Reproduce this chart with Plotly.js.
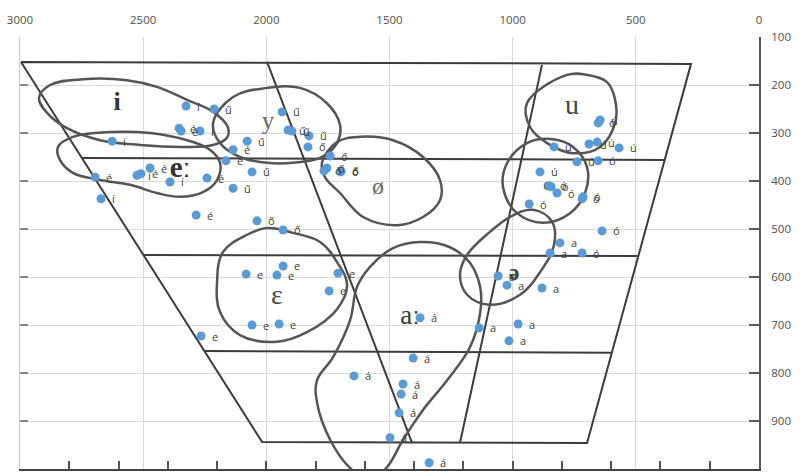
<!DOCTYPE html>
<html><head><meta charset="utf-8">
<script src="https://cdn.plot.ly/plotly-3.0.1.min.js"></script>
<style>html,body{margin:0;padding:0;background:#fff}</style>
</head><body>
<div id="chart" style="width:802px;height:472px"></div>
<script>
// measured tokens: F2 (x), F1 (y), orthographic label
const f2Values = [2326,2212,2354,2346,2269,2626,2078,2135,2164,2058,2695,2525,2509,2472,2391,2241,2135,2671,2285,2038,1932,
  1936,1912,1896,1827,1831,1741,1754,1766,1697,1697,
  2082,1957,1932,1709,1745,2058,1948,2265,
  1376,1404,1644,1445,1453,1461,1498,1339,
  1059,1023,881,1136,978,1015,808,848,718,637,
  653,645,832,690,657,568,739,653,889,852,844,820,714,718,933];
const f1Values = [244,250,290,296,296,317,317,335,358,381,392,388,385,373,402,394,415,437,471,483,502,
  256,294,296,306,329,348,373,379,379,381,
  594,596,577,592,629,700,698,723,
  685,769,806,823,844,883,935,987,
  598,617,623,706,698,733,529,550,550,504,
  279,273,329,323,319,331,360,358,381,410,412,425,433,437,448];
const tokenLabels = ['í','ű','é','é','í','í','ű','é','é','ű','é','í','é','é','í','é','ű','í','é','ő','ő',
  'ű','ű','ű','ű','ő','ő','ő','ő','ő','ő',
  'e','e','e','e','e','e','e','e',
  'á','á','á','á','á','á','á','á',
  'a','a','a','a','a','a','a','a','ó','ó',
  'ó','ú','ú','ú','ú','ú','ú','ó','ú','ó','ó','ó','ó','ó','ó'];

// IPA vowel symbols of the background chart
const symbolText = ['i','y','eː','ø','u','o','ɛ','aː','ə'];
const symbolF2 = [2606,1993,2350,1547,759,860,1957,1417,994];
const symbolF1 = [238,279,377,414,246,410,642,683,594];
const symbolSize = [26,25,29,24,28,16,28,27,24];
const symbolWeight = ['bold','normal','bold','normal','normal','normal','normal','normal','bold'];
const symbolColor = ['#333333','#6a6a6a','#333333','#6a6a6a','#444444','#555555','#4a4a4a','#3a3a3a','#444444'];

// vowel trapezoid (outer frame, horizontal bands, inner diagonals)
const frameF2 = [2996,276,698,2017,2996];
const frameF1 = [152,156,946,944,152];
const bandF2 = [[2748,381],[2501,491],[2249,600]];
const bandF1 = [[352,356],[554,556],[754,758]];
const diagF2 = [[1997,1408],[881,1214]];
const diagF1 = [[152,946],[158,946]];

// vowel areas (closed outlines)
const areaNames = ['i','eː','y','ø','u','o','ə','ɛ','aː'];
const areaF2 = [
  [2923,2878,2744,2566,2444,2322,2216,2156,2160,2216,2338,2513,2675,2809,2890],
  [2846,2785,2635,2472,2322,2229,2188,2200,2257,2350,2444,2553,2675,2785,2838],
  [2216,2135,1997,1863,1754,1701,1713,1782,1892,1997,2107,2188],
  [1774,1713,1620,1486,1364,1295,1295,1364,1469,1607,1701,1762],
  [698,779,942,929,860,755,645,584,584,617],
  [836,755,698,706,767,877,982,1039,1023,942],
  [917,840,832,889,970,1092,1185,1214,1185,1092,1011],
  [2200,2176,2078,1997,1892,1782,1713,1672,1713,1835,1957,2107,2188],
  [1376,1254,1173,1132,1132,1173,1266,1364,1445,1510,1579,1660,1741,1794,1794,1729,1660,1632,1579,1486]
];
const areaF1 = [
  [227,200,188,190,204,231,256,288,310,325,329,325,315,290,258],
  [329,308,298,300,315,335,362,398,423,433,425,408,398,383,356],
  [279,225,206,206,238,283,321,352,362,362,350,321],
  [362,319,308,315,350,398,440,475,492,475,425,392],
  [179,179,238,288,321,342,329,279,231,194],
  [313,329,371,425,467,487,467,413,363,321],
  [460,485,533,590,637,658,637,596,554,506,475],
  [610,548,512,498,508,527,569,617,667,715,735,721,673],
  [527,538,571,621,675,746,815,877,939,996,1023,998,939,862,815,767,690,621,579,540]
];

const xTicks = [3000,2500,2000,1500,1000,500,0];
const yTicks = [100,200,300,400,500,600,700,800,900,1000];

const traces = [];
const frameLine = {color:'#3c3c3c', width:2};
traces.push({x:frameF2, y:frameF1, mode:'lines', line:frameLine, hoverinfo:'skip', showlegend:false});
bandF2.forEach((b,i)=>traces.push({x:b, y:bandF1[i], mode:'lines', line:frameLine, hoverinfo:'skip', showlegend:false}));
diagF2.forEach((d,i)=>traces.push({x:d, y:diagF1[i], mode:'lines', line:frameLine, hoverinfo:'skip', showlegend:false}));
areaF2.forEach((a,i)=>{
  traces.push({x:a.concat([a[0]]), y:areaF1[i].concat([areaF1[i][0]]), mode:'lines', name:areaNames[i],
    line:{color:'#555555', width:2.5, shape:'spline', smoothing:1.1}, hoverinfo:'skip', showlegend:false});
});
traces.push({x:symbolF2, y:symbolF1, mode:'text', text:symbolText, textposition:'middle center',
  textfont:{family:'Liberation Serif, DejaVu Serif, serif', size:symbolSize, color:symbolColor, weight:symbolWeight},
  hoverinfo:'skip', showlegend:false, cliponaxis:false});
traces.push({x:f2Values, y:f1Values, mode:'markers', text:tokenLabels,
  marker:{color:'#5b9bd5', size:9}, showlegend:false, cliponaxis:false});
// dummy trace on secondary axes
traces.push({x:[3000], y:[1000], xaxis:'x2', yaxis:'y2', mode:'markers', marker:{opacity:0}, hoverinfo:'skip', showlegend:false});

const labelAnnotations = tokenLabels.map((t,i)=>({
  x:f2Values[i], y:f1Values[i], xref:'x', yref:'y', text:t, showarrow:false,
  xanchor:'left', yanchor:'middle', xshift:10, borderpad:0,
  font:{family:'Open Sans, sans-serif', size:11, color:'#404040'}
}));

const tickFont = {family:'Open Sans, sans-serif', size:11.5, color:'#505050'};
const layout = {
  width:802, height:472,
  margin:{l:20, r:43, t:37, b:3},
  paper_bgcolor:'#ffffff', plot_bgcolor:'#ffffff',
  showlegend:false,
  annotations:labelAnnotations,
  xaxis:{range:[3000,0], side:'top', tickvals:xTicks, ticktext:xTicks.map(String), showgrid:true, gridcolor:'#d9d9d9', gridwidth:1,
    zeroline:false, showline:false, ticks:'', tickfont:tickFont, ticklabelstandoff:10},
  yaxis:{range:[1000,100], side:'right', tickvals:yTicks, ticktext:yTicks.map(String), showgrid:true, gridcolor:'#d9d9d9', gridwidth:1,
    zeroline:false, showline:true, linecolor:'#5a5a5a', linewidth:2, ticks:'inside', ticklen:10, tickwidth:2, tickcolor:'#5a5a5a',
    tickfont:tickFont, ticklabelstandoff:8},
  xaxis2:{range:[3000,0], overlaying:'x', side:'bottom', anchor:'y2', tick0:0, dtick:200, ticks:'inside', ticklen:8, tickwidth:2,
    tickcolor:'#555555', showline:true, linecolor:'#444444', linewidth:2, showticklabels:false, showgrid:false, zeroline:false},
  yaxis2:{range:[1000,100], overlaying:'y', side:'left', anchor:'x2', tick0:0, dtick:100, ticks:'inside', ticklen:8, tickwidth:1.5,
    tickcolor:'#888888', showline:true, linecolor:'#cccccc', linewidth:1, showticklabels:false, showgrid:false, zeroline:false}
};
Plotly.newPlot('chart', traces, layout, {displayModeBar:false, staticPlot:true});
</script>
</body></html>
